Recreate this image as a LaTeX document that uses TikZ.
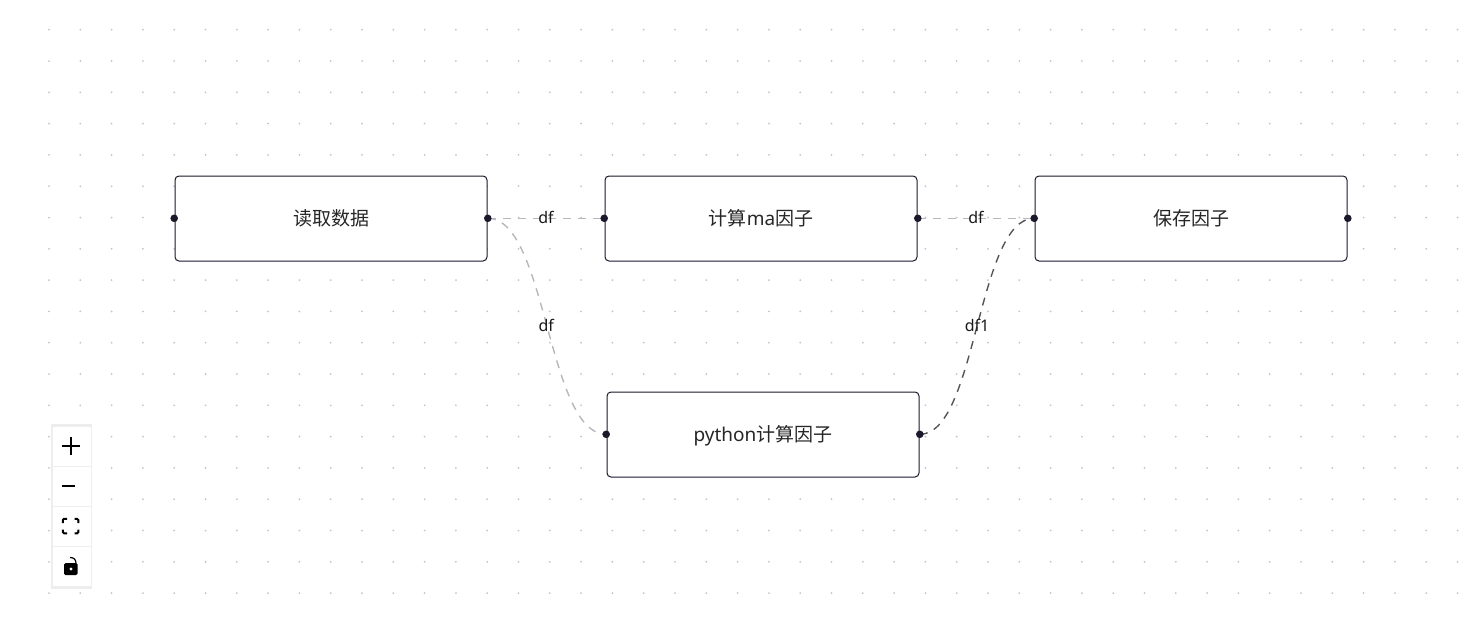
\documentclass[tikz,border=0pt]{standalone}
\usepackage{fontspec}
\setmainfont{Noto Sans}
\newfontfamily\cjk{Noto Sans CJK SC}
\usetikzlibrary{positioning, backgrounds, shadows}
\definecolor{nodeink}{HTML}{1A192B}
\definecolor{edgelight}{HTML}{B8B8BC}
\definecolor{edgedark}{HTML}{555555}
\definecolor{griddot}{HTML}{C4C4C4}
\definecolor{paneledge}{HTML}{EEEEEE}

\begin{document}
\begin{tikzpicture}[
    x=1pt, y=-1pt,
    flownode/.style={draw=nodeink, fill=white, rounded corners=4pt, line width=1pt, outer sep=0pt,
        minimum width=312pt, minimum height=85pt, text height=16pt, text depth=2.6pt, align=center,
        text=black!85, font=\fontsize{19}{23}\selectfont},
    handle/.style={circle, fill=nodeink, inner sep=0pt, minimum size=7.6pt},
    flowedge/.style={draw=edgelight, line width=1.6pt, dash pattern=on 8pt off 7pt},
    edgelabel/.style={text=black!90, inner sep=0pt, font=\fontsize{16}{19}\selectfont},
    panelbtn/.style={draw=paneledge, fill=white, line width=0.8pt, minimum width=39pt, minimum height=40pt, inner sep=0pt},
    panelicon/.style={draw=black, line width=2pt}
]
\useasboundingbox (0,0) rectangle (1483,637);

\node[flownode] (read) at (331,218.5) {\cjk 读取数据};
\node[flownode, right=118pt of read] (calc) {{\cjk 计算}ma{\cjk 因子}};
\node[flownode, right=118pt of calc] (save) {\cjk 保存因子};
\node[flownode] (py) at (763,434.5) {python{\cjk 计算因子}};

\foreach \flow in {read, calc, save, py} {
    \node[handle] (\flow in) at ([xshift=-0.8pt,yshift=0.2pt]\flow.west) {};
    \node[handle] (\flow out) at ([xshift=0.8pt,yshift=0.2pt]\flow.east) {};
}

\begin{pgfonlayer}{background}
    \foreach \col in {0,...,45}
        \foreach \row in {0,...,18}
            \fill[griddot] (49+\col*31.3, 29.7+\row*31.3) circle (1pt);
    \draw[flowedge] (readout.center) -- node[edgelabel, yshift=0.8pt] (lblcalc) {df} (calcin.center);
    \draw[flowedge] (calcout.center) -- node[edgelabel, yshift=0.8pt] (lblsave) {df} (savein.center);
    \draw[flowedge, line width=1.4pt] (readout.center) .. controls +(59,0) and +(-59,0) .. node[edgelabel, xshift=-0.8pt, yshift=1pt] (lblpy) {df} (pyin.center);
    \draw[flowedge, line width=1.4pt, draw=edgedark] (pyout.center) .. controls +(57,0) and +(-57,0) .. node[edgelabel, yshift=1pt] (lbljoin) {df1} (savein.center);
\end{pgfonlayer}

\node[panelbtn, drop shadow={opacity=0.14, shadow xshift=0pt, shadow yshift=0pt, shadow scale=1.03}, minimum height=160pt] (panel) at (71.5,506.5) {};
\node[panelbtn] (zoomin) at (71.5,446.5) {};
\node[panelbtn] (zoomout) at (71.5,486.5) {};
\node[panelbtn] (fitview) at (71.5,526.5) {};
\node[panelbtn] (lock) at (71.5,566.5) {};

\draw[panelicon, line width=2.4pt] (62,445.7) -- (80,445.7) (71,437) -- (71,455);
\draw[panelicon, line width=1.8pt] (62,485.7) -- (75,485.7);
\draw[panelicon, rounded corners=1.2pt] (62.8,523) -- (62.8,518.8) -- (67,518.8)
    (74.5,518.8) -- (78.3,518.8) -- (78.3,523)
    (62.8,529.5) -- (62.8,533.3) -- (67,533.3)
    (74.5,533.3) -- (78.3,533.3) -- (78.3,529.5);
\fill[rounded corners=1.5pt] (64,563) rectangle (77.7,575);
\draw[panelicon, line width=1.2pt] (70,557.5) .. controls (74,557.5) and (76,559.5) .. (76,563.5);
\fill[white] (71,569) circle (1.6pt);
\end{tikzpicture}
\end{document}
